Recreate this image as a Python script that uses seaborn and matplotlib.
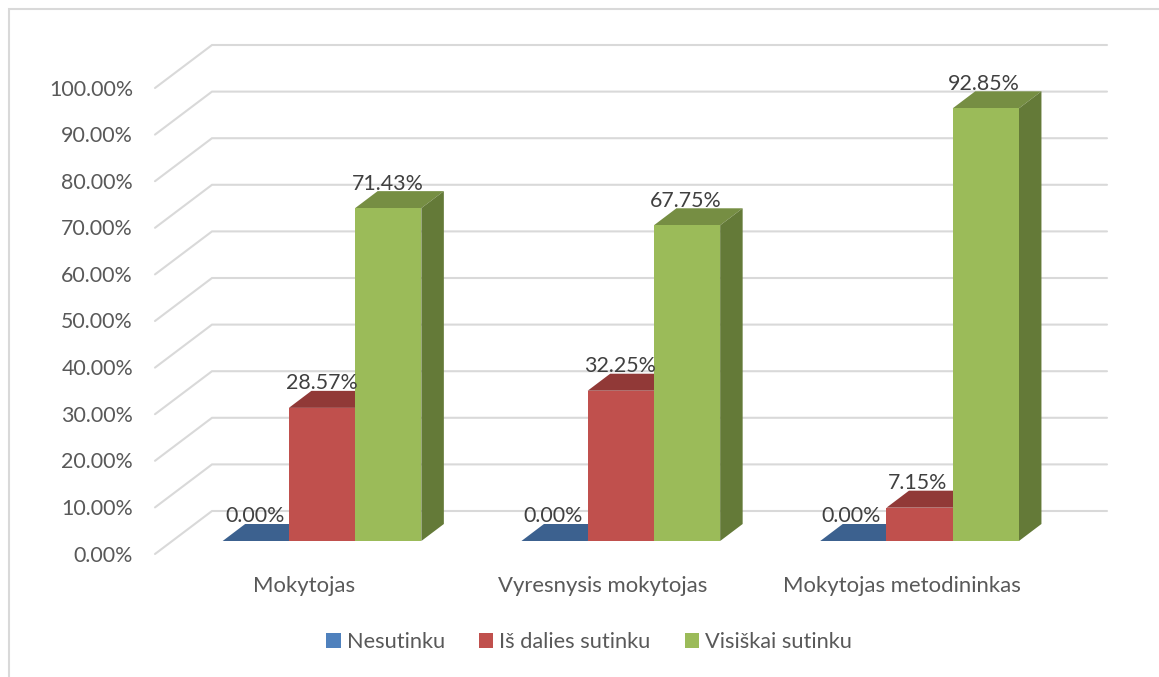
import matplotlib
matplotlib.use("Agg")
import matplotlib.pyplot as plt
from matplotlib.patches import Polygon, Rectangle
from matplotlib.transforms import ScaledTranslation
import pandas as pd
import seaborn as sns

# Survey answers by teacher qualification, in percent
categories = ["Mokytojas", "Vyresnysis mokytojas", "Mokytojas metodininkas"]
nesutinku = [0.00, 0.00, 0.00]
is_dalies = [28.57, 32.25, 7.15]
visiskai = [71.43, 67.75, 92.85]
series_names = ["Nesutinku", "Iš dalies sutinku", "Visiškai sutinku"]
axis_ticks = [0, 10, 20, 30, 40, 50, 60, 70, 80, 90, 100]

front_colors = ["#4F81BD", "#C0504D", "#9BBB59"]
top_colors = ["#3C618F", "#913937", "#768E43"]
side_colors = ["#314F74", "#762E2C", "#647A38"]

W, H = 1159, 677
FONT_SIZE = 15.4
sns.set_theme(style="white")
plt.rcParams["font.family"] = ["Lato", "DejaVu Sans"]

frame = pd.DataFrame({
    "category": categories * 3,
    "series": [name for name in series_names for _ in categories],
    "value": nesutinku + is_dalies + visiskai,
})

fig = plt.figure(figsize=(W / 100, H / 100), dpi=100, facecolor="white")

# Front plane of the bars: one category is 298.8 px wide, one percent is 4.66 px tall
PX_X, PX_Y = 298.8, 4.66
AX_LEFT = 172.6
ax = fig.add_axes([AX_LEFT / W, (H - 541) / H, 3 * PX_X / W, 466 / H])
ax.patch.set_alpha(0)

sns.barplot(data=frame, x="category", y="value", hue="series", hue_order=series_names,
            palette=front_colors, width=0.665, gap=0, saturation=1, errorbar=None,
            linewidth=0, ax=ax, zorder=3)
ax.set_xlim(-0.5, 2.5)
ax.set_ylim(0, 100)
ax.set_xlabel("")
ax.set_ylabel("")
sns.despine(ax=ax, left=True, bottom=True)

# Gridlines run along the floor-side wall and then across the back wall
wall_front_x = (155 - AX_LEFT) / PX_X - 0.5
wall_back_x = (212 - AX_LEFT) / PX_X - 0.5
wall_right_x = (1107 - AX_LEFT) / PX_X - 0.5
for tick in axis_ticks:
    ax.plot([wall_front_x, wall_back_x, wall_right_x],
            [tick - 13 / PX_Y, tick + 30 / PX_Y, tick + 30 / PX_Y],
            color="#D9D9D9", lw=1.5, clip_on=False, zorder=1,
            solid_joinstyle="miter")

# Extruded top and side faces of every bar
DX, DY = 22.5 / PX_X, 17 / PX_Y
for container, top_c, side_c in zip(ax.containers, top_colors, side_colors):
    for bar in container:
        x0, x1 = bar.get_x(), bar.get_x() + bar.get_width()
        h = bar.get_height()
        ax.add_patch(Polygon([(x0, h), (x1, h), (x1 + DX, h + DY), (x0 + DX, h + DY)],
                             closed=True, fc=top_c, ec="none", clip_on=False, zorder=2.5))
        ax.add_patch(Polygon([(x1, 0), (x1 + DX, DY), (x1 + DX, h + DY), (x1, h)],
                             closed=True, fc=side_c, ec="none", clip_on=False, zorder=2.5))

# Value labels sit above the front edge of each bar top, drifting left group by group
group_nudge = [-0.5, -1.2, -2.2]
for container, values in zip(ax.containers, [nesutinku, is_dalies, visiskai]):
    for bar, value, nudge in zip(container, values, group_nudge):
        ax.annotate(f"{value:.2f}%", xy=(bar.get_x() + bar.get_width() / 2, value),
                    xytext=(nudge * 0.72, 24.5 * 0.72), textcoords="offset points",
                    ha="center", va="center", fontsize=FONT_SIZE, color="#404040",
                    annotation_clip=False, zorder=6)

ax.set_yticks(axis_ticks)
ax.set_yticklabels([f"{t:.2f}%" for t in axis_ticks])
ax.tick_params(axis="y", length=0, pad=(AX_LEFT - 133) * 0.72, labelsize=FONT_SIZE, labelcolor="#595959")
ax.tick_params(axis="x", length=0, pad=0, labelsize=15.9, labelcolor="#595959")
for label in ax.get_yticklabels():
    label.set_transform(label.get_transform() + ScaledTranslation(0, -12.5 / 100, fig.dpi_scale_trans))
for label in ax.get_xticklabels():
    label.set_verticalalignment("center")
    label.set_transform(label.get_transform() + ScaledTranslation(-18 / 100, -45 / 100, fig.dpi_scale_trans))

sns.move_legend(ax, "center", bbox_to_anchor=(589 / W, (H - 642) / H),
                bbox_transform=fig.transFigure, ncol=3, title=None, frameon=False,
                fontsize=15.7, labelcolor="#595959", handlelength=0.68, handleheight=0.68,
                handletextpad=0.28, columnspacing=1.55, borderpad=0, borderaxespad=0)

# Chart border, running off the right and bottom edges
fig.add_artist(Rectangle((9 / W, -0.1), 1.2, 0.1 + (H - 9) / H, transform=fig.transFigure,
                         fc="none", ec="#D9D9D9", lw=1.5))

fig.savefig("out.png", dpi=100)
